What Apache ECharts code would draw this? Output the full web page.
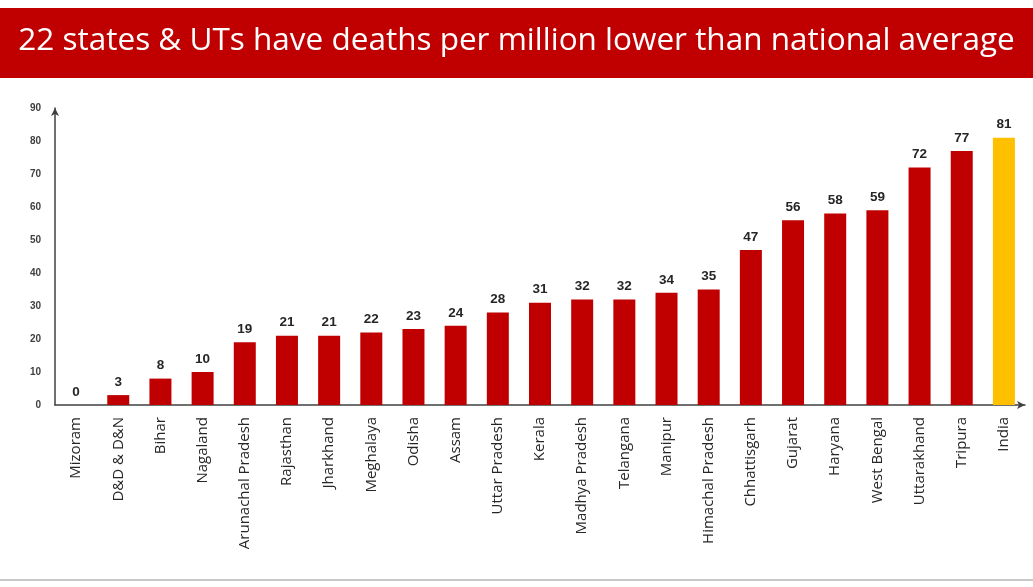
<!DOCTYPE html>
<html><head><meta charset="utf-8">
<script src="https://cdn.jsdelivr.net/npm/echarts@6/dist/echarts.min.js"></script>
<style>html,body{margin:0;padding:0;background:#fff}#c{width:1033px;height:587px}</style>
</head><body><div id="c"></div>
<script>
const categories = ["Mizoram","D&D & D&N","Bihar","Nagaland","Arunachal Pradesh","Rajasthan","Jharkhand","Meghalaya","Odisha","Assam","Uttar Pradesh","Kerala","Madhya Pradesh","Telangana","Manipur","Himachal Pradesh","Chhattisgarh","Gujarat","Haryana","West Bengal","Uttarakhand","Tripura","India"];
const values = [0,3,8,10,19,21,21,22,23,24,28,31,32,32,34,35,47,56,58,59,72,77,81];
const yTicks = [0,10,20,30,40,50,60,70,80,90];
const titleText = "22 states & UTs have deaths per million lower than national average";

const chart = echarts.init(document.getElementById('c'));
chart.setOption({
  backgroundColor: '#ffffff',
  animation: false,
  graphic: [
    {type:'rect', shape:{x:0,y:8,width:1033,height:70}, style:{fill:'#C00000'}},
    {type:'text', left:'center', top:25, style:{text:titleText, fill:'#ffffff', font:'31.5px "Open Sans", sans-serif'}},
    {type:'rect', shape:{x:0,y:579,width:1033,height:2}, style:{fill:'#c8c8c8'}}
  ],
  grid: {left:55, right:8, top:108, bottom:182},
  xAxis: {
    type:'category', data:categories,
    axisLine:{lineStyle:{color:'#404040', width:1.5}, symbol:['none','arrow'], symbolSize:[6,8]},
    axisTick:{show:false},
    axisLabel:{rotate:90, color:'#262626', fontSize:15, fontFamily:'"Open Sans", sans-serif', margin:12, interval:0}
  },
  yAxis: {
    type:'value', min:0, max:90, interval:10,
    axisLine:{show:true, lineStyle:{color:'#404040', width:1.5}, symbol:['none','arrow'], symbolSize:[6,8]},
    axisTick:{show:false},
    splitLine:{show:false},
    axisLabel:{color:'#404040', fontSize:10, fontWeight:'bold', margin:14,
      formatter: v => yTicks.includes(v) ? String(v) : ''}
  },
  series: [{
    type:'bar', barWidth:22,
    data: values.map((v,i)=>({value:v, itemStyle:{color: categories[i]==='India' ? '#FFC000' : '#C00000'}})),
    label:{show:true, position:'top', color:'#262626', fontWeight:'bold', fontSize:13.5, distance:6}
  }]
});
</script></body></html>
